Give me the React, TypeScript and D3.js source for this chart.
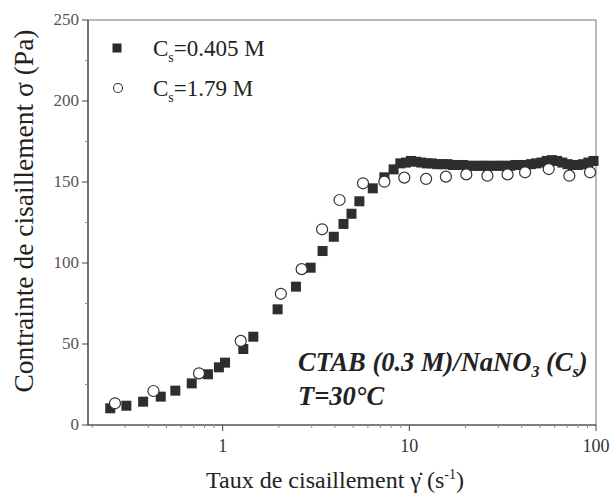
import React from "react";
import * as d3 from "d3";

const W = 611;
const H = 498;

// Cs = 0.405 M (filled squares): [shear rate (1/s), stress (Pa)]
const squaresX = [0.25, 0.305, 0.375, 0.466, 0.558, 0.683, 0.834, 0.955, 1.03, 1.29, 1.46, 1.97, 2.47, 2.96, 3.43, 3.94, 4.44, 4.9, 5.4, 6.37, 7.35, 8.24, 8.95,
  9.6, 10.2, 10.9, 11.6, 12.4, 13.2, 14.1, 15.0, 16.0, 17.1, 18.2, 19.4, 20.7, 22.1, 23.6, 25.1, 26.8, 28.6, 30.5, 32.5, 34.7, 37.0, 39.4, 42.0, 44.8, 47.8, 51.0, 54.4, 58.0, 61.9, 66.0, 70.4, 75.0, 80.0, 85.3, 91.0, 97.0];
const squaresY = [10.3, 11.9, 14.4, 17.5, 21.2, 25.7, 31.3, 35.6, 38.5, 46.9, 54.5, 71.4, 85.4, 97.1, 107.4, 116.2, 124.1, 130.4, 138.1, 146.1, 152.9, 157.8, 161.5,
  162, 163, 162.5, 162, 161.5, 161.5, 161, 161, 161, 160.5, 160.5, 160.5, 160, 160, 160, 160, 160, 160, 160, 160, 160, 160.5, 160.5, 160.5, 161, 161.5, 162, 163, 163.5, 163, 162, 161, 160.5, 160.5, 161, 162, 163];

// Cs = 1.79 M (open circles)
const circlesX = [0.265, 0.426, 0.747, 1.25, 2.05, 2.65, 3.41, 4.23, 5.65, 7.35, 9.4, 12.3, 15.7, 20.2, 26.2, 33.6, 41.7, 55.8, 72.0, 92.9];
const circlesY = [13.4, 21.0, 31.9, 51.9, 81.0, 96.2, 120.8, 138.9, 149.2, 150.2, 152.7, 151.9, 153.3, 154.7, 153.9, 154.7, 156.0, 158.0, 153.9, 156.0];

const yTicks = [0, 50, 100, 150, 200, 250];
const xTicks = [1, 10, 100];

export default function App() {
  const left = 88, right = 596, top = 20, bottom = 425;
  const x = d3.scaleLog().domain([0.19, 100]).range([left, right]);
  const y = d3.scaleLinear().domain([0, 250]).range([bottom, top]);

  const minorX: number[] = [];
  [0.1, 1, 10].forEach((dec) => {
    for (let k = 2; k <= 9; k++) {
      const v = dec * k;
      if (v > 0.19 && v < 100) minorX.push(v);
    }
  });
  const minorY = [25, 75, 125, 175, 225];
  const axisColor = "#444";
  const font = "Liberation Serif, DejaVu Serif, serif";
  const sq = 10;

  return (
    <svg width={W} height={H} style={{ position: "absolute", left: 0, top: 0, background: "#fff", fontFamily: font }}>
      {/* frame */}
      <rect x={left} y={top} width={right - left} height={bottom - top} fill="none" stroke="#777" strokeWidth={1} />
      <line x1={left} x2={right} y1={bottom} y2={bottom} stroke={axisColor} strokeWidth={1.2} />
      <line x1={left} x2={left} y1={top} y2={bottom} stroke={axisColor} strokeWidth={1.2} />
      {/* y ticks */}
      {yTicks.map((t) => (
        <g key={"yt" + t}>
          <line x1={left - 6} x2={left} y1={y(t)} y2={y(t)} stroke={axisColor} />
          <text x={left - 9} y={y(t) + 5} textAnchor="end" fontSize={17} fill="#555">{t}</text>
        </g>
      ))}
      {minorY.map((t) => (
        <line key={"ym" + t} x1={left - 3} x2={left} y1={y(t)} y2={y(t)} stroke="#888" />
      ))}
      {/* x ticks */}
      {xTicks.map((t) => (
        <g key={"xt" + t}>
          <line x1={x(t)} x2={x(t)} y1={bottom} y2={bottom + 6} stroke={axisColor} />
          <text x={x(t)} y={bottom + 27} textAnchor="middle" fontSize={18} fill="#333">{t}</text>
        </g>
      ))}
      {minorX.map((t) => (
        <line key={"xm" + t} x1={x(t)} x2={x(t)} y1={bottom} y2={bottom + 3} stroke="#888" />
      ))}
      {/* data squares */}
      {squaresX.map((v, i) => (
        <rect key={"s" + i} x={x(v) - sq / 2} y={y(squaresY[i]) - sq / 2} width={sq} height={sq} fill="#2e2e2e" />
      ))}
      {/* circles */}
      {circlesX.map((v, i) => (
        <circle key={"c" + i} cx={x(v)} cy={y(circlesY[i])} r={5.5} fill="#fff" stroke="#333" strokeWidth={1.2} />
      ))}
      {/* legend */}
      <rect x={117 - 4.5} y={48 - 4.5} width={9} height={9} fill="#2a2a2a" />
      <text x={153} y={56} fontSize={23} fill="#222">
        C<tspan fontSize={14} dy={6}>s</tspan><tspan dy={-6}>=0.405 M</tspan>
      </text>
      <circle cx={118} cy={88} r={4.5} fill="#fff" stroke="#333" strokeWidth={1.1} />
      <text x={153} y={96} fontSize={23} fill="#222">
        C<tspan fontSize={14} dy={6}>s</tspan><tspan dy={-6}>=1.79 M</tspan>
      </text>
      {/* annotation */}
      <text x={298} y={371} fontSize={26.5} fontWeight="bold" fontStyle="italic" fill="#222">
        CTAB (0.3 M)/NaNO<tspan fontSize={16} dy={6}>3</tspan><tspan dy={-6}> (C</tspan><tspan fontSize={16} dy={6}>s</tspan><tspan dy={-6}>)</tspan>
      </text>
      <text x={298} y={405} fontSize={26.5} fontWeight="bold" fontStyle="italic" fill="#222">T=30°C</text>
      {/* axis titles */}
      <text x={335} y={488} textAnchor="middle" fontSize={24} fill="#222">
        Taux de cisaillement γ̇ (s<tspan fontSize={14} dy={-9}>-1</tspan><tspan dy={9}>)</tspan>
      </text>
      <text transform={`translate(33, 211) rotate(-90)`} textAnchor="middle" fontSize={27.5} fill="#222">
        Contrainte de cisaillement σ (Pa)
      </text>
    </svg>
  );
}
